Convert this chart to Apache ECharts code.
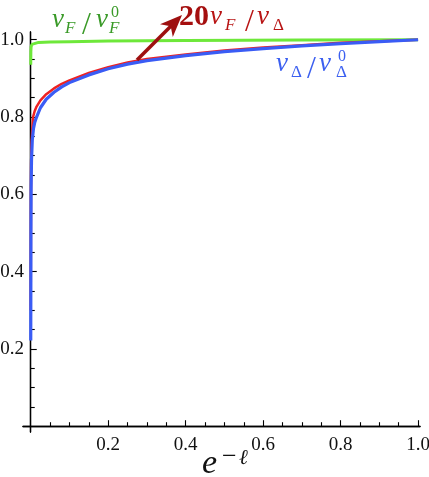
<!DOCTYPE html>
<html>
<head>
<meta charset="utf-8">
<script src="https://cdn.jsdelivr.net/npm/echarts@6/dist/echarts.min.js"></script>
<style>
html,body{margin:0;padding:0;background:#fff;}
#c{width:429px;height:477px;}
</style>
</head>
<body>
<div id="c"></div>
<script>
// ---- data ----
const greenX = [0, 0.0003, 0.001, 0.003, 0.008, 0.02, 0.05, 0.1, 0.2, 0.4, 0.7, 1.0];
const greenY = [0.935, 0.97, 0.982, 0.988, 0.991, 0.993, 0.994, 0.995, 0.997, 0.998, 0.999, 1.0];

const redX = [0, 0.0005, 0.001, 0.002, 0.004, 0.006, 0.01, 0.015, 0.025, 0.04, 0.06, 0.08, 0.1, 0.15, 0.2, 0.25, 0.3, 0.4, 0.5, 0.6, 0.7, 0.8, 0.9, 1.0];
const redY = [0.3, 0.6, 0.68, 0.73, 0.77, 0.80, 0.815, 0.827, 0.843, 0.859, 0.874, 0.886, 0.895, 0.914, 0.929, 0.941, 0.950, 0.962, 0.972, 0.980, 0.986, 0.992, 0.996, 1.0];

const blueX = [0, 0.0005, 0.001, 0.002, 0.004, 0.007, 0.01, 0.015, 0.025, 0.04, 0.06, 0.08, 0.1, 0.15, 0.2, 0.25, 0.3, 0.4, 0.5, 0.6, 0.7, 0.8, 0.9, 1.0];
const blueY = [0.222, 0.5, 0.62, 0.69, 0.74, 0.77, 0.785, 0.80, 0.824, 0.846, 0.864, 0.878, 0.889, 0.909, 0.925, 0.937, 0.946, 0.959, 0.969, 0.977, 0.984, 0.990, 0.995, 1.0];

const majorTicks = [0.2, 0.4, 0.6, 0.8, 1.0];
const minorTicks = [0.05, 0.1, 0.15, 0.25, 0.3, 0.35, 0.45, 0.5, 0.55, 0.65, 0.7, 0.75, 0.85, 0.9, 0.95];

// ---- chart ----
const zip = (xs, ys) => xs.map((x, i) => [x, ys[i]]);
const SERIF = "'Liberation Serif','DejaVu Serif',serif";

function axisBase(dimMin, dimMax, pos, ticks, len, withLabels, isX) {
  return {
    type: 'value', min: dimMin, max: dimMax, position: pos,
    axisLine: {show: true, onZero: true, onZeroAxisIndex: 0, lineStyle: {color: '#000', width: 1.3}},
    axisTick: {show: true, inside: true, length: len, customValues: ticks, lineStyle: {color: '#000', width: 1.1}},
    axisLabel: withLabels ? {
      show: true, customValues: ticks, margin: isX ? 4 : -1,
      formatter: v => v.toFixed(1), hideOverlap: false,
      fontFamily: SERIF, fontSize: 19, color: '#111'
    } : {show: false},
    splitLine: {show: false}, minorTick: {show: false}
  };
}

const chart = echarts.init(document.getElementById('c'), null, {renderer: 'canvas'});

function txt(s, x, base, size, color, italic, bold) {
  return {
    type: 'text', x: x, y: base - 0.33 * size, z: 100,
    style: {
      text: s, fill: color, font: (italic ? 'italic ' : '') + (bold ? 'bold ' : '') + size + 'px ' + SERIF,
      verticalAlign: 'middle', align: 'left'
    }
  };
}

const G = '#3a9a28', R = '#b81414', R2 = '#a50f0f', B = '#3b5ff0', K = '#111';

const graphics = [
  // green label
  txt('v', 52, 29, 27, G, true), txt('F', 65, 34, 17, G, true),
  txt('/', 82, 36, 32, G, false), txt('v', 96, 29, 27, G, true),
  txt('F', 109, 34, 17, G, true), txt('0', 111, 18, 16, G, false),
  // red label
  txt('20', 179, 27, 30, R2, false, true), txt('v', 210, 26, 27, R, true),
  txt('F', 225, 31, 17, R, true), txt('/', 245, 33, 32, R, false),
  txt('v', 257, 26, 27, R, true), txt('Δ', 273, 31, 17, R, false),
  // blue label
  txt('v', 276, 73, 27, B, true), txt('Δ', 291, 78, 17, B, false),
  txt('/', 307, 80, 32, B, false), txt('v', 319, 73, 27, B, true),
  txt('Δ', 336, 78, 17, B, false), txt('0', 338, 62, 16, B, false),
  // x axis title
  txt('e', 202, 475, 34, K, true), txt('−', 222, 466, 26, K, false),
  txt('ℓ', 239, 465, 21, K, true),
  // arrow
  {type: 'line', z: 100, shape: {x1: 137, y1: 60, x2: 172, y2: 25},
   style: {stroke: '#9e1010', lineWidth: 3.5}},
  {type: 'polygon', z: 100, shape: {points: [[182, 15], [172.8, 37], [170.7, 26.3], [160, 24.2]]},
   style: {fill: '#9e1010'}}
];

chart.setOption({
  animation: false,
  backgroundColor: '#fff',
  grid: {left: 23, right: 9, top: 32, bottom: 45, containLabel: false, outerBoundsMode: 'none'},
  xAxis: [
    axisBase(-0.02, 1.005, 'bottom', majorTicks, 6, true, true),
    axisBase(-0.02, 1.005, 'bottom', minorTicks, 4, false, true)
  ],
  yAxis: [
    axisBase(-0.015, 1.02, 'left', majorTicks, 6, true, false),
    axisBase(-0.015, 1.02, 'left', minorTicks, 4, false, false)
  ],
  series: [
    {type: 'line', data: zip(greenX, greenY), showSymbol: false, smooth: false,
     lineStyle: {color: '#6ee83a', width: 3}, z: 3},
    {type: 'line', data: zip(redX, redY), showSymbol: false, smooth: false,
     lineStyle: {color: '#ee2222', width: 2.5}, z: 3},
    {type: 'line', data: zip(blueX, blueY), showSymbol: false, smooth: false,
     lineStyle: {color: '#3a5cf5', width: 3.2}, z: 4}
  ],
  graphic: graphics
});
</script>
</body>
</html>
